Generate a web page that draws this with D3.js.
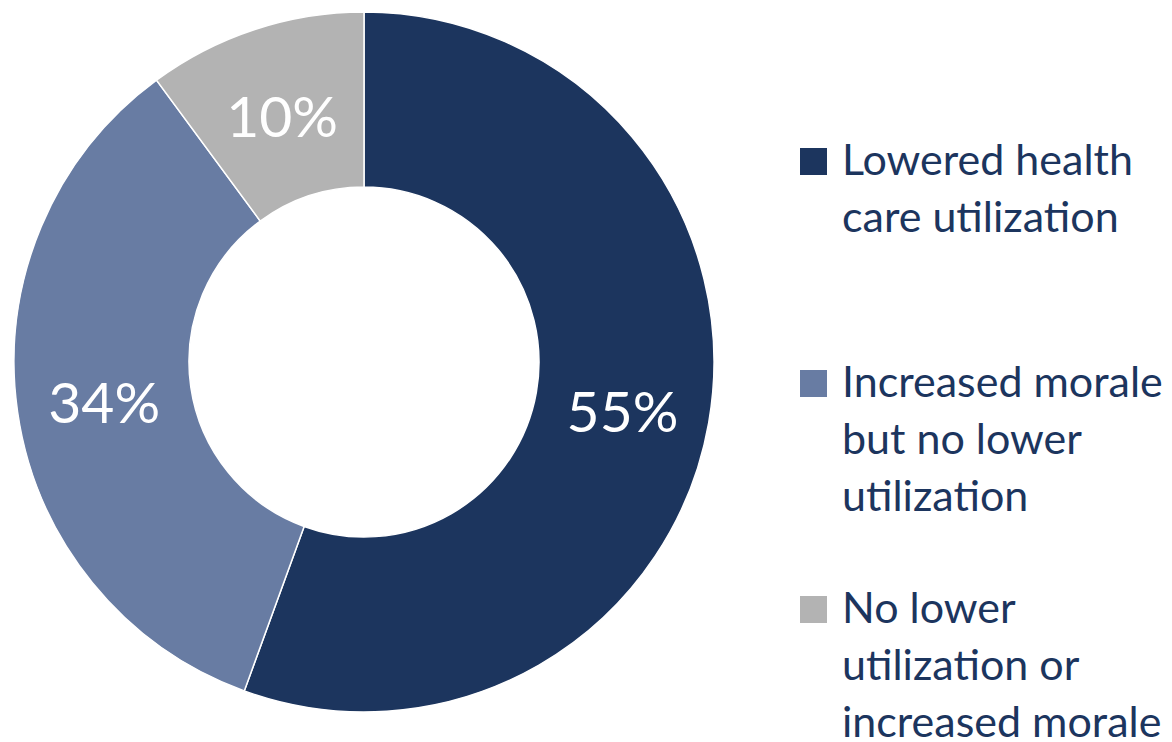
<!DOCTYPE html>
<html><head><meta charset="utf-8">
<script src="https://cdn.jsdelivr.net/npm/d3@7"></script>
<style>body{margin:0;background:#fff;} svg{display:block;}</style>
</head><body>
<svg id="c" width="1172" height="742"></svg>
<script>
const categories = ["Lowered health care utilization", "Increased morale but no lower utilization", "No lower utilization or increased morale"];
const values = [55, 34, 10];
const labels = ["55%", "34%", "10%"];
const legendLines = [["Lowered health", "care utilization"], ["Increased morale", "but no lower", "utilization"], ["No lower", "utilization or", "increased morale"]];
const colors = ["#1c355e", "#687ca3", "#b3b3b3"];

const svg = d3.select("#c");
const cx = 364, cy = 362, rOuter = 350, rInner = 175;
const pie = d3.pie().sort(null).value(d => d)(values);
const arc = d3.arc().innerRadius(rInner).outerRadius(rOuter);
const g = svg.append("g").attr("transform", `translate(${cx},${cy})`);
g.selectAll("path").data(pie).join("path")
  .attr("d", arc).attr("fill", (d, i) => colors[i])
  .attr("stroke", "#fff").attr("stroke-width", 1.5);
g.selectAll("text").data(pie).join("text")
  .attr("transform", d => `translate(${arc.centroid(d)})`)
  .attr("text-anchor", "middle").attr("dy", "0.42em")
  .attr("font-family", "Lato, 'Open Sans', sans-serif").attr("font-size", 57)
  .attr("fill", "#fff").text((d, i) => labels[i]);

const legendTop = [144, 366, 592];
const lineH = 57;
const lg = svg.append("g");
categories.forEach((c, i) => {
  lg.append("rect").attr("x", 800).attr("y", legendTop[i] + 4).attr("width", 27).attr("height", 27).attr("fill", colors[i]);
  const t = lg.append("text").attr("x", 842).attr("y", legendTop[i] + 31)
    .attr("font-family", "Lato, 'Open Sans', sans-serif").attr("font-size", 43).attr("fill", "#1c355e");
  legendLines[i].forEach((ln, j) => {
    t.append("tspan").attr("x", 842).attr("y", legendTop[i] + 31 + j * lineH).text(ln);
  });
});
</script>
</body></html>
